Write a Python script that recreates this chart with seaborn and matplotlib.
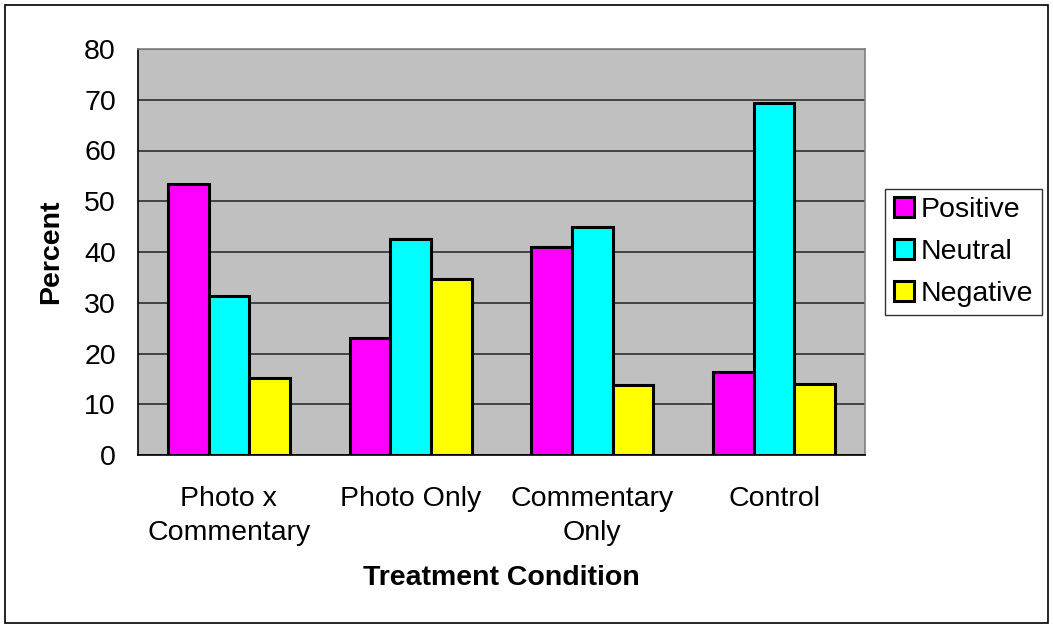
import matplotlib
matplotlib.use("Agg")
import matplotlib.pyplot as plt
import seaborn as sns
import pandas as pd
import numpy as np
from matplotlib.patches import Rectangle
from matplotlib.ticker import FixedLocator

conditions = ["Photo x\nCommentary", "Photo Only", "Commentary\nOnly", "Control"]
series = ["Positive", "Neutral", "Negative"]
positive = [53.4, 23.0, 40.9, 16.4]
neutral = [31.3, 42.5, 44.9, 69.4]
negative = [15.2, 34.6, 13.8, 14.0]
colors = ["#FF00FF", "#00FFFF", "#FFFF00"]
y_ticks = [0, 10, 20, 30, 40, 50, 60, 70, 80]

df = pd.DataFrame({
    "Condition": conditions * 3,
    "Tone": [s for s in series for _ in conditions],
    "Percent": positive + neutral + negative,
})

sns.set_style("white")
plt.rcParams["font.family"] = ["Liberation Sans", "DejaVu Sans"]
plt.rcParams.update({"text.color": "black", "axes.labelcolor": "black",
                     "xtick.color": "black", "ytick.color": "black"})

FS = 20.5

fig = plt.figure(figsize=(10.53, 6.28), dpi=100)
ax = fig.add_axes([138 / 1053, 1 - 455 / 628, (865 - 138) / 1053, (455 - 49) / 628])
ax.set_facecolor("#C0C0C0")

sns.barplot(data=df, x="Condition", y="Percent", hue="Tone", order=conditions,
            hue_order=series, palette=colors, width=0.67, edgecolor="black",
            linewidth=2.2, saturation=1, ax=ax, zorder=3)

ax.set_ylim(0, 80)
ax.set_xlim(-0.5, len(conditions) - 0.5)
ax.set_yticks(y_ticks)
ax.yaxis.grid(True, color="#222222", linewidth=1.1, zorder=0)
ax.set_axisbelow(True)

ax.tick_params(axis="y", direction="out", length=7, width=1, color="black",
               labelsize=FS, pad=9)
ax.tick_params(axis="x", which="major", length=0, labelsize=FS, pad=22)
for lbl in ax.get_xticklabels():
    lbl.set_linespacing(1.4)
ax.xaxis.set_minor_locator(FixedLocator(np.arange(-0.5, len(conditions), 1.0)))
ax.tick_params(axis="x", which="minor", direction="out", length=7, width=1, color="black")

for side in ["left", "bottom"]:
    ax.spines[side].set_color("black")
    ax.spines[side].set_linewidth(1.2)
for side in ["top", "right"]:
    ax.spines[side].set_color("#808080")
    ax.spines[side].set_linewidth(1.2)

ax.set_xlabel("Treatment Condition", fontsize=FS, fontweight="bold", labelpad=14)
ax.set_ylabel("Percent", fontsize=FS, fontweight="bold", labelpad=14)

leg = ax.legend(title=None, loc="center left", bbox_to_anchor=(1.028, 0.5),
                fontsize=FS, frameon=True, fancybox=False, edgecolor="black",
                handlelength=0.7, handleheight=0.7, handletextpad=0.25,
                borderpad=0.3, labelspacing=0.55, borderaxespad=0)
leg.get_frame().set_linewidth(1.0)

fig.patches.append(Rectangle((5 / 1053, 5 / 628), 1043 / 1053, 618 / 628,
                             transform=fig.transFigure, fill=False,
                             edgecolor="black", linewidth=1.2))

fig.savefig("out.png", dpi=100, facecolor="white")
